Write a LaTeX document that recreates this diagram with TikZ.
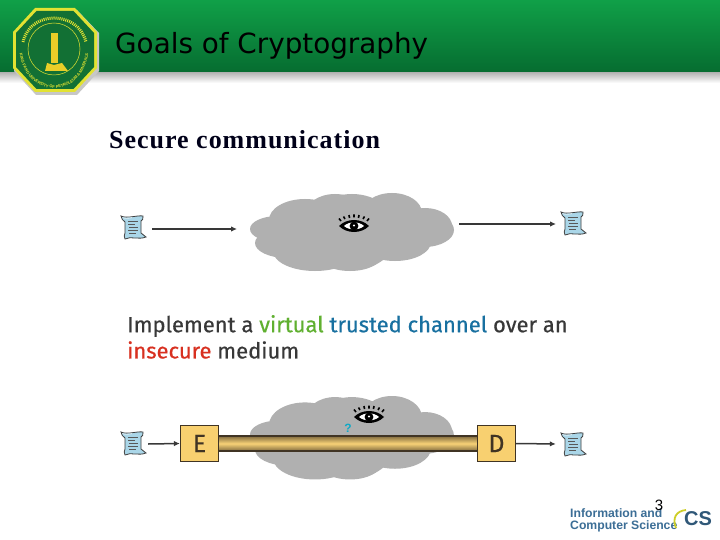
\documentclass[tikz,border=0pt]{standalone}
\usepackage{fontspec}
\setmainfont{Liberation Serif}
\newfontfamily\hdr{DejaVu Sans}
\newfontfamily\hand[FakeBold=0.5]{Fira Sans}
\newfontfamily\arm{Liberation Sans}
\usetikzlibrary{arrows.meta,decorations.text}
\definecolor{hgtop}{RGB}{16,160,72}
\definecolor{hgbot}{RGB}{6,108,48}
\definecolor{cloudc}{RGB}{176,176,176}
\definecolor{boxc}{RGB}{248,208,112}
\definecolor{boxl}{RGB}{64,52,36}
\definecolor{scrollc}{RGB}{170,214,232}
\definecolor{virt}{RGB}{96,176,48}
\definecolor{trust}{RGB}{24,112,160}
\definecolor{insec}{RGB}{216,48,32}
\definecolor{bodyt}{RGB}{56,56,56}
\definecolor{ics}{RGB}{60,110,150}
\definecolor{logog}{RGB}{18,112,52}
\definecolor{logoy}{RGB}{226,226,50}
\tikzset{
  x=1pt,y=-1pt,
  cloudshape/.style={fill=cloudc,draw=none},
  arrowline/.style={draw=bodyt,line width=1.5pt,-{Latex[length=6pt,width=5.5pt]}},
  pipeline/.style={line width=1.4pt,draw=boxl},
  coderbox/.style={draw=boxl,line width=1.2pt,fill=boxc,minimum width=38pt,minimum height=36pt,inner sep=0pt,font=\hand\fontsize{25}{25}\selectfont,text=boxl},
  bodytext/.style={anchor=west,inner sep=0pt,font=\hand\fontsize{22}{22}\selectfont,text=bodyt},
  scrollmark/.style={minimum size=30pt,inner sep=0pt}
}
\newcommand{\scrollicon}[2]{%
  \begin{scope}[shift={(#1,#2)}]
    \fill[scrollc,draw=black!75,line width=0.8pt] (-12,-11) .. controls (-6,-8) and (4,-12) .. (10,-11) .. controls (11,-8) and (9,-7) .. (8,-6) -- (8,6) .. controls (9,8) and (12,8) .. (13,10) .. controls (6,13) and (-3,9) .. (-8,12) .. controls (-10,10) and (-8,8) .. (-8,6) -- (-8,-5) .. controls (-10,-7) and (-12,-8) .. (-12,-11) -- cycle;
    \draw[black!65,line width=0.7pt] (-5,-6) -- (5,-6) (-5,-3) -- (2,-3) (-4,0) -- (5,0) (-5,3) -- (5,3) (-4,6) -- (3,6);
    \fill[white,opacity=0.6] (-11,-10) .. controls (-8,-9) and (-4,-9) .. (-1,-10) -- (-1,-9) .. controls (-4,-8) and (-8,-8) .. (-10,-9) -- cycle;
  \end{scope}}
\newcommand{\cloudat}[3]{%
  \begin{scope}[shift={(#1,#2)},yscale=#3]
    \fill[cloudshape] (352,39) ellipse (46 and 38);
    \fill[cloudshape] (335,22) ellipse (30 and 21);
    \fill[cloudshape] (305,27) ellipse (36 and 21);
    \fill[cloudshape] (278,36) ellipse (28 and 13);
    \fill[cloudshape] (287,50) ellipse (32 and 15);
    \fill[cloudshape] (315,58) ellipse (42 and 20);
    \fill[cloudshape] (392,20) ellipse (30 and 20);
    \fill[cloudshape] (425,33) ellipse (27 and 18);
    \fill[cloudshape] (424,37) ellipse (30 and 17);
    \fill[cloudshape] (395,49) ellipse (36 and 19);
    \fill[cloudshape] (350,62) ellipse (32 and 16);
  \end{scope}}
\newcommand{\eyeat}[2]{%
  \begin{scope}[shift={(#1,#2)}]
    \fill[black] (-15,0) .. controls (-7,-8) and (7,-8) .. (15,0) .. controls (7,8) and (-7,8) .. (-15,0) -- cycle;
    \fill[white] (-10,0) .. controls (-5,-4.8) and (5,-4.8) .. (10,0) .. controls (5,4.5) and (-5,4.5) .. (-10,0) -- cycle;
    \fill[black] (0,0) circle (4.4);
    \fill[white] (0,-0.5) circle (1.2);
    \draw[black,line width=1.6pt] (-13,-5) -- (-15,-7.5) (-9,-7) -- (-10.5,-9.5) (-4.5,-8) -- (-5,-11) (0,-8.5) -- (0,-11.5) (4.5,-8) -- (5,-11) (9,-7) -- (10.5,-9.5) (13,-5) -- (15,-7.5);
  \end{scope}}
\begin{document}
\begin{tikzpicture}
\useasboundingbox (0,0) rectangle (720,540);
\fill[white] (0,0) rectangle (720,540);
% header
\shade[top color=hgtop,bottom color=hgbot] (0,0) rectangle (720,73);
\shade[top color=black!28,bottom color=white] (0,73) rectangle (720,83);
% logo
\fill[black!22] (36,10) -- (77,10) -- (99,33) -- (99,71) -- (77,95) -- (36,95) -- (14,71) -- (14,33) -- cycle;
\fill[logoy] (35,8) -- (75,8) -- (97,32) -- (97,68) -- (75,92) -- (35,92) -- (13,68) -- (13,32) -- cycle;
\fill[logog] (36.5,11) -- (73.5,11) -- (94,33) -- (94,67) -- (73.5,89) -- (36.5,89) -- (16,67) -- (16,33) -- cycle;
\draw[logoy,line width=0.5pt] (54,49) circle (26);
\fill[logoy!80!orange] (50.5,33) rectangle (57.5,63);
\fill[logoy!80!orange] (47,63) -- (54,65) -- (62,63) -- (68,71) -- (54,71) -- (45,71) -- cycle;
\draw[logoy,line width=3pt,dash pattern=on 1pt off 1pt] (23,42) .. controls (30,10) and (78,10) .. (86,42);
\path[decorate,decoration={text along path,text color=logoy,text align=center,
  text={|\arm\bfseries\fontsize{4}{4}\selectfont|KING FAHD UNIVERSITY OF PETROLEUM {\&} MINERALS}}]
  (19,44) .. controls (19,103) and (89,103) .. (89,44);
% title
\node[anchor=west,inner sep=0pt,font=\hdr\fontsize{27.8}{27.8}\selectfont,text=black] (title) at (115,46) {Goals of Cryptography};
\node[anchor=west,inner sep=0pt,font=\fontsize{26}{26}\selectfont\bfseries\addfontfeature{LetterSpace=3.8},text=black!90!blue] (subtitle) at (109,140) {Secure communication};
% top row
\cloudat{0}{193}{1}
\scrollicon{133}{227}
\node[scrollmark] (s1) at (133,227) {};
\scrollicon{573}{223}
\node[scrollmark] (s2) at (573,223) {};
\coordinate (a1) at (152,229);
\coordinate (a2) at (237,229);
\coordinate (b1) at (459,224);
\coordinate (b2) at (556,224);
\draw[arrowline,line width=1.8pt] (a1) -- (a2);
\draw[arrowline,line width=1.2pt] (b1) -- (b2);
\eyeat{354}{226}
% text
\node[bodytext] (t1) at (127,326) {Implement a \textcolor{virt}{virtual} \textcolor{trust}{trusted channel} over an};
\node[bodytext] (t2) at (127,350) {\textcolor{insec}{insecure} medium};
% bottom row
\cloudat{0}{396}{1.07}
\eyeat{369}{417}
\shade[top color=boxl!65!boxc,bottom color=boxl!65!boxc,middle color=boxc!95!white] (210,436) rectangle (480,451);
\draw[pipeline] (210,436) -- (480,436) (210,451) -- (480,451);
\node[coderbox] (E) at (199.5,443.5) {E};
\node[coderbox] (D) at (496.5,443.5) {D};
\node[inner sep=0pt,font=\arm\bfseries\fontsize{12}{12}\selectfont,text=trust!60!cyan] (q) at (348,428) {?};
\scrollicon{133}{443}
\node[scrollmark] (s3) at (133,444) {};
\scrollicon{573}{444}
\node[scrollmark] (s4) at (573,444) {};
\draw[arrowline] (s3.east) -- (E.west);
\draw[arrowline,shorten >=2pt] (D.east) -- (s4.west);
% footer
\node[anchor=west,inner sep=0pt,font=\arm\bfseries\fontsize{12.2}{12.2}\selectfont,text=ics] (ft1) at (570,513) {Information and};
\node[anchor=west,inner sep=0pt,font=\arm\bfseries\fontsize{12.2}{12.2}\selectfont,text=ics] (ft2) at (570,526) {Computer Science};
\draw[logoy!80!olive,line width=1.8pt] (676,528) .. controls (672,518) and (676,511) .. (686,510);
\node[inner sep=0pt,font=\arm\bfseries\fontsize{20}{20}\selectfont,text=ics!80!black] (ics) at (698,519) {CS};
\node[inner sep=0pt,font=\arm\fontsize{15}{15}\selectfont,text=black] (pg) at (659,505) {3};
\end{tikzpicture}
\end{document}
